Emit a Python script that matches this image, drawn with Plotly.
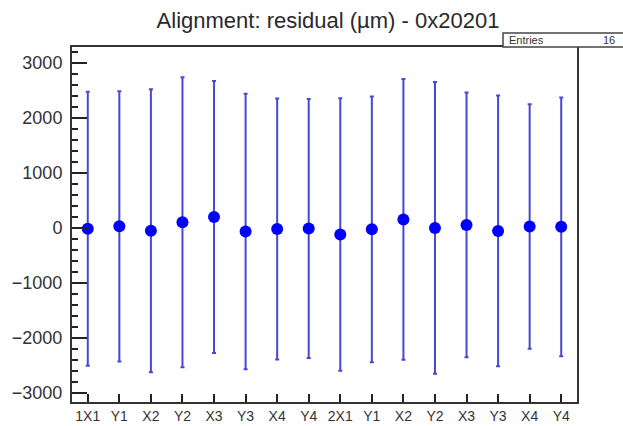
import plotly.graph_objects as go

# 16 alignment planes (two detectors x 8 planes)
labels = ['1X1', 'Y1', 'X2', 'Y2', 'X3', 'Y3', 'X4', 'Y4',
          '2X1', 'Y1', 'X2', 'Y2', 'X3', 'Y3', 'X4', 'Y4']
residuals = [-15, 30, -50, 105, 200, -65, -20, -10,
             -120, -25, 155, 0, 55, -55, 25, 20]
errors = [2493, 2457, 2572, 2636, 2473, 2503, 2372, 2354,
          2476, 2415, 2551, 2652, 2406, 2461, 2224, 2351]
bin_centers = [i + 0.5 for i in range(len(labels))]
n_entries = len(labels)

# pixel helpers for the frame (plot area 72..577 x 47..402)
L, R, T, B = 72, 577, 47, 402


def px_x(p):
    return (p - L) / (R - L)


def px_y(p):
    return (B - p) / (B - T)


fig = go.Figure()
fig.add_trace(go.Scatter(
    x=bin_centers,
    y=residuals,
    mode='markers',
    marker=dict(color='#0000ff', size=12),
    error_y=dict(type='data', array=errors, visible=True,
                 color='rgba(40,40,200,0.85)', thickness=2, width=2),
    showlegend=False
))

fig.update_layout(
    width=623, height=426,
    margin=dict(l=L, r=623 - R, t=T, b=426 - B, autoexpand=False),
    paper_bgcolor='white',
    plot_bgcolor='white',
    font=dict(family='Liberation Sans, Arial, sans-serif', color='#222'),
    title=dict(text='Alignment: residual (µm) - 0x20201',
               x=px_x(328), xref='paper', xanchor='center',
               y=1 - 20 / 426, yanchor='middle',
               font=dict(size=22, color='#2a2a2a')),
    xaxis=dict(
        range=[0, 16],
        tickvals=bin_centers,
        ticktext=labels,
        ticks='inside', ticklen=8, tickcolor='#222', tickwidth=1.5,
        showgrid=False, zeroline=False, automargin=False,
        showline=True, mirror=True, linecolor='#333', linewidth=2,
        tickfont=dict(size=14, color='#333'),
    ),
    yaxis=dict(
        range=[-3165, 3290],
        tickvals=[-3000, -2000, -1000, 0, 1000, 2000, 3000],
        ticks='inside', ticklen=15, tickcolor='#222', tickwidth=1.5,
        minor=dict(dtick=200, ticks='inside', ticklen=6,
                   tickcolor='#222', tickwidth=1.5),
        ticklabelstandoff=4,
        showgrid=False, zeroline=False, automargin=False,
        showline=True, mirror=True, linecolor='#333', linewidth=2,
        tickfont=dict(size=18, color='#333'),
    ),
)

# stat box (clipped at the right edge as in the original)
fig.add_shape(type='rect', xref='paper', yref='paper',
              x0=px_x(503), x1=px_x(650), y0=px_y(47), y1=px_y(33),
              line=dict(color='#444', width=1.5), fillcolor='white')
fig.add_annotation(xref='paper', yref='paper', x=px_x(507), y=px_y(40),
                   text='Entries', showarrow=False, xanchor='left',
                   yanchor='middle', font=dict(size=11, color='#333'))
fig.add_annotation(xref='paper', yref='paper', x=px_x(617), y=px_y(40),
                   text=str(n_entries), showarrow=False, xanchor='right',
                   yanchor='middle', font=dict(size=11, color='#333'))

# drop the default page margin so the figure sits at the window origin
fig.write_html('out.html', config={'displayModeBar': False},
               post_script="document.body.style.margin='0';")
